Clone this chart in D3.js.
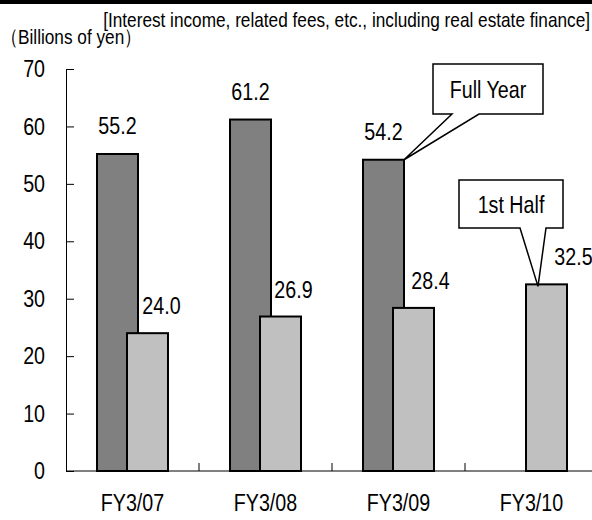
<!DOCTYPE html>
<html>
<head>
<meta charset="utf-8">
<script src="https://cdn.jsdelivr.net/npm/d3@7"></script>
<style>
  body { margin: 0; background: #fff; }
  text { font-family: "Liberation Sans", Arial, sans-serif; fill: #000; }
</style>
</head>
<body>
<div id="wrapper"></div>
<script>
// data
const categories = ["FY3/07", "FY3/08", "FY3/09", "FY3/10"];
const fullYear = [55.2, 61.2, 54.2, null];
const firstHalf = [24.0, 26.9, 28.4, 32.5];
const yTicks = [0, 10, 20, 30, 40, 50, 60, 70];
const halfLabelNudge = [14, 13, 17, 27]; // labels were dragged right in the source

const subtitle = "[Interest income, related fees, etc., including real estate finance]";
const unitLabel = "（Billions of yen）";

// dimensions
const width = 592;
const height = 520;
const originX = 66;
const bandStep = 133;
const barWidth = 41;
const squeeze = 0.82; // no Arial Narrow here, so squash Liberation Sans

const svg = d3.select("#wrapper")
  .append("svg")
  .attr("width", width)
  .attr("height", height);

// place a condensed text at (x, y)
const narrowText = (parent, x, y, size, anchor, str) => parent.append("text")
  .attr("transform", `translate(${x},${y}) scale(${squeeze},1)`)
  .attr("text-anchor", anchor)
  .style("font-size", size + "px")
  .text(str);

// black rule on top
svg.append("rect")
  .attr("x", 0).attr("y", 0)
  .attr("width", width).attr("height", 4)
  .attr("fill", "#000");

narrowText(svg, 590, 27, 21, "end", subtitle);
narrowText(svg, 1, 44, 21, "start", unitLabel);

// scales
const x = d3.scaleBand()
  .domain(categories)
  .range([originX, originX + bandStep * categories.length])
  .padding(0);

const y = d3.scaleLinear()
  .domain([0, 70])
  .range([471, 69]);

const fullX = c => x(c) + x.bandwidth() / 2 - 15 - barWidth / 2;
const halfX = c => x(c) + x.bandwidth() / 2 + 15 - barWidth / 2;

// y axis, ticks point inward
const yAxis = svg.append("g")
  .attr("transform", `translate(${originX},0)`)
  .call(d3.axisLeft(y).tickValues(yTicks).tickSizeInner(-8).tickSizeOuter(0).tickPadding(21));
yAxis.select(".domain").attr("stroke", "#000");
yAxis.selectAll(".tick line").attr("stroke", "#000");
yAxis.selectAll("text")
  .attr("x", -21 / squeeze)
  .attr("transform", `scale(${squeeze},1)`)
  .style("font-size", "24px")
  .style("font-family", null)
  .attr("fill", "#000");

// x axis line + boundary ticks
svg.append("line")
  .attr("x1", originX).attr("x2", width)
  .attr("y1", y(0)).attr("y2", y(0))
  .attr("stroke", "#000");

svg.selectAll(".xtick")
  .data(categories.slice(1))
  .join("line")
  .attr("class", "xtick")
  .attr("x1", d => x(d)).attr("x2", d => x(d))
  .attr("y1", y(0)).attr("y2", y(0) - 8)
  .attr("stroke", "#000");

const xLabels = svg.append("g");
categories.forEach(c => {
  narrowText(xLabels, x(c) + x.bandwidth() / 2, y(0) + 40, 24, "middle", c);
});

// bars
const fullData = categories.map((c, i) => ({ c, v: fullYear[i] })).filter(d => d.v != null);
const halfData = categories.map((c, i) => ({ c, v: firstHalf[i], nudge: halfLabelNudge[i] }));

svg.append("g").selectAll("rect")
  .data(fullData)
  .join("rect")
  .attr("x", d => fullX(d.c))
  .attr("y", d => y(d.v))
  .attr("width", barWidth)
  .attr("height", d => y(0) - y(d.v))
  .attr("fill", "#808080")
  .attr("stroke", "#000")
  .attr("stroke-width", 2);

svg.append("g").selectAll("rect")
  .data(halfData)
  .join("rect")
  .attr("x", d => halfX(d.c))
  .attr("y", d => y(d.v))
  .attr("width", barWidth)
  .attr("height", d => y(0) - y(d.v))
  .attr("fill", "#c0c0c0")
  .attr("stroke", "#000")
  .attr("stroke-width", 2);

// value labels
const valueLabels = svg.append("g");
fullData.forEach(d => {
  narrowText(valueLabels, fullX(d.c) + barWidth / 2, y(d.v) - 20, 24, "middle", d.v.toFixed(1));
});
halfData.forEach(d => {
  narrowText(valueLabels, halfX(d.c) + barWidth / 2 + d.nudge, y(d.v) - 19, 24, "middle", d.v.toFixed(1));
});

// callouts
const callout = (box, base, tip, label) => {
  const [x0, y0, x1, y1] = box;
  const path = d3.path();
  path.moveTo(x0, y0);
  path.lineTo(x1, y0);
  path.lineTo(x1, y1);
  path.lineTo(base[1], y1);
  path.lineTo(tip[0], tip[1]);
  path.lineTo(base[0], y1);
  path.lineTo(x0, y1);
  path.closePath();
  svg.append("path")
    .attr("d", path.toString())
    .attr("fill", "#fff")
    .attr("stroke", "#000")
    .attr("stroke-width", 1.5);
  narrowText(svg, (x0 + x1) / 2, (y0 + y1) / 2 + 9, 24, "middle", label);
};

callout([433, 64, 543, 114], [452, 479],
  [fullX("FY3/09") + barWidth, y(fullYear[2])], "Full Year");
callout([459, 180, 563, 228], [520, 546],
  [halfX("FY3/10") + 12, y(firstHalf[3]) + 2], "1st Half");
</script>
</body>
</html>
